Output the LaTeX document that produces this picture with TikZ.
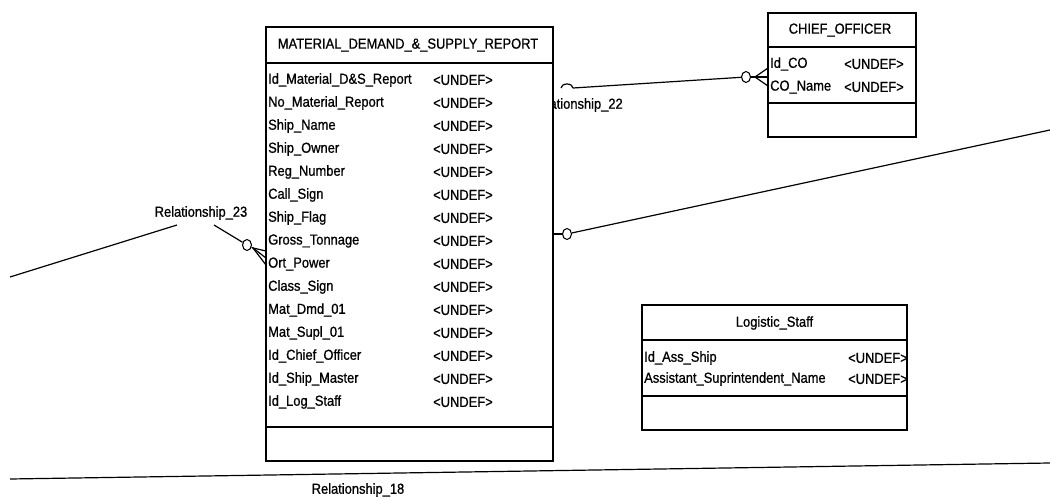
\documentclass[tikz,border=0pt]{standalone}
\usepackage{fontspec}
\setmainfont{Liberation Sans}[FakeStretch=0.89,FakeBold=0.8]
\usetikzlibrary{calc,shapes.geometric}
\tikzset{
  ent/.style  ={draw,line width=1.5pt,fill=white,inner sep=0pt,outer sep=0pt},
  sep/.style  ={line width=1.5pt},
  ttl/.style  ={inner sep=0pt,font=\fontsize{14.5}{16}\selectfont},
  att/.style  ={anchor=west,inner sep=0pt,font=\fontsize{14.5}{16}\selectfont},
  rel/.style  ={line width=1.2pt},
  opt/.style  ={draw,ellipse,line width=1.1pt,fill=white,minimum width=9pt,minimum height=11pt,inner sep=0pt},
  rlbl/.style ={inner sep=0pt,font=\fontsize{14.5}{16}\selectfont},
}
\newcommand{\undef}{\textless{}UNDEF\textgreater}

\begin{document}
\begin{tikzpicture}[x=1pt,y=-1pt]
  \useasboundingbox (0,0) rectangle (1050,500);
  % label partly hidden behind the report table
  \node[rlbl,anchor=west] (l22) at (530,105) {Relationship\_22};

  % MATERIAL_DEMAND_&_SUPPLY_REPORT
  \node[ent,minimum width=287pt,minimum height=434pt] (mdsr) at (409.5,244) {};
  \node[ttl] (mdsr-t) at (408,45) {MATERIAL\_DEMAND\_\&\_SUPPLY\_REPORT};
  \draw[sep] ([yshift=-36pt]mdsr.north west) -- ([yshift=-36pt]mdsr.north east);
  \draw[sep] ([yshift=34pt]mdsr.south west) -- ([yshift=34pt]mdsr.south east);
  \foreach \nm [count=\i] in {Id\_Material\_D\&S\_Report,No\_Material\_Report,Ship\_Name,
      Ship\_Owner,Reg\_Number,Call\_Sign,Ship\_Flag,Gross\_Tonnage,Ort\_Power,Class\_Sign,
      Mat\_Dmd\_01,Mat\_Supl\_01,Id\_Chief\_Officer,Id\_Ship\_Master,Id\_Log\_Staff}{
    \node[att] (mdsr-n\i) at (268,{57+23*\i}) {\nm};
    \node[att] (mdsr-u\i) at (433,{57+23*\i}) {\undef};
  }

  % CHIEF_OFFICER
  \node[ent,minimum width=148pt,minimum height=124pt] (co) at (842,75) {};
  \node[ttl] (co-t) at (840,30) {CHIEF\_OFFICER};
  \draw[sep] ([yshift=-34pt]co.north west) -- ([yshift=-34pt]co.north east);
  \draw[sep] ([yshift=34pt]co.south west) -- ([yshift=34pt]co.south east);
  \node[att] (co-n1) at (770,64) {Id\_CO};
  \node[att] (co-u1) at (844,64) {\undef};
  \node[att] (co-n2) at (770,87) {CO\_Name};
  \node[att] (co-u2) at (844,87) {\undef};

  % Logistic_Staff
  \node[ent,minimum width=265pt,minimum height=125pt] (ls) at (774.5,367.5) {};
  \node[ttl] (ls-t) at (774.5,323) {Logistic\_Staff};
  \draw[sep] ([yshift=-35pt]ls.north west) -- ([yshift=-35pt]ls.north east);
  \draw[sep] ([yshift=34pt]ls.south west) -- ([yshift=34pt]ls.south east);
  \node[att] (ls-n1) at (644,358) {Id\_Ass\_Ship};
  \node[att] (ls-n2) at (644,379) {Assistant\_Suprintendent\_Name};
  \begin{scope}
    \clip (ls.south west) rectangle (ls.north east);
    \node[att] (ls-u1) at (848,358) {\undef};
    \node[att] (ls-u2) at (848,379) {\undef};
  \end{scope}
  \draw[line width=1.5pt] (ls.south west) rectangle (ls.north east);

  % Relationship_22
  \coordinate (r22s) at (573,88);
  \node[opt] (c22) at (746,77) {};
  \draw[rel] (r22s) arc[start angle=0,end angle=180,x radius=6pt,y radius=4pt];
  \draw[rel] (r22s) -- (c22);
  \coordinate (cf22) at (755,77);
  \draw[rel] (c22.east) -- (cf22);
  \foreach \dy in {-9,0,9}
    \draw[rel] (cf22) -- ($(co.west |- cf22)+(0,\dy)$);

  % relationship to the right
  \node[opt] (cR) at (567,234) {};
  \coordinate (rR) at (1050,130);
  \draw[rel] (cR.west) -- (cR.west -| mdsr.east);
  \draw[rel] (cR) -- (rR);

  % Relationship_23
  \coordinate (r23a) at (10,277);
  \coordinate (r23b) at (177,225);
  \node[rlbl] (l23) at (201,213) {Relationship\_23};
  \draw[rel] (r23a) -- (r23b);
  \coordinate (r23c) at (214,225);
  \node[opt] (c23) at (247,245) {};
  \draw[rel] (r23c) -- (c23);
  \coordinate (cf23) at (253,248);
  \draw[rel] (c23) -- (cf23);
  \foreach \yy in {251,258,265}
    \draw[rel] (cf23) -- (mdsr.west |- 0,\yy);

  % Relationship_18
  \coordinate (r18a) at (10,479);
  \coordinate (r18b) at (1050,463);
  \draw[rel] (r18a) -- (r18b);
  \node[rlbl] (l18) at (358,490) {Relationship\_18};
\end{tikzpicture}
\end{document}
